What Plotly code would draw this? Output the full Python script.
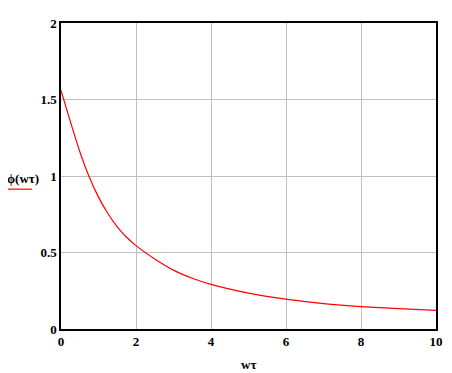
import plotly.graph_objects as go

x_vals = [0, 0.25, 0.5, 0.75, 1, 1.25, 1.5, 1.75, 2, 2.5, 3, 3.5, 4, 5, 6, 7, 8, 9, 10]
phi_vals = [1.56, 1.355, 1.16, 0.995, 0.862, 0.755, 0.668, 0.600, 0.545, 0.458, 0.385,
            0.332, 0.292, 0.235, 0.195, 0.166, 0.146, 0.133, 0.122]
x_ticks = [0, 2, 4, 6, 8, 10]
y_ticks = [0, 0.5, 1, 1.5, 2]
y_tick_text = ["0", "0.5", "1", "1.5", "2"]

font_fam = "Liberation Serif"

fig = go.Figure()
fig.add_trace(go.Scatter(x=x_vals, y=phi_vals, mode="lines",
                         line=dict(color="#ff0000", width=1.2, shape="spline", smoothing=0.6),
                         showlegend=False, hoverinfo="skip"))

axis_common = dict(showgrid=True, gridcolor="#c0c0c0", gridwidth=1,
                   showline=True, linecolor="black", linewidth=1.5, mirror=True,
                   zeroline=False, ticks="",
                   tickfont=dict(family=font_fam, size=13, color="black", weight="bold"))

fig.update_xaxes(range=[0, 10], tickvals=x_ticks, ticktext=[str(v) for v in x_ticks],
                 **axis_common)
fig.update_yaxes(range=[0, 2], tickvals=y_ticks, ticktext=y_tick_text, **axis_common)

fig.update_layout(
    width=444, height=365,
    margin=dict(l=53, r=16, t=8, b=44),
    paper_bgcolor="white", plot_bgcolor="white",
    annotations=[
        dict(text="ϕ(wτ)", xref="paper", yref="paper", x=-0.102, y=0.492,
             showarrow=False, xanchor="center", yanchor="middle",
             font=dict(family=font_fam, size=13, color="black", weight="bold")),
        dict(text="wτ", xref="paper", yref="paper", x=0.5, y=-0.115,
             showarrow=False, xanchor="center", yanchor="middle",
             font=dict(family=font_fam, size=13, color="black", weight="bold")),
    ],
    shapes=[
        dict(type="line", xref="paper", yref="paper", x0=-0.152, x1=-0.077,
             y0=0.457, y1=0.457, line=dict(color="#ff0000", width=1.2)),
    ],
)

fig.write_html("out.html")
